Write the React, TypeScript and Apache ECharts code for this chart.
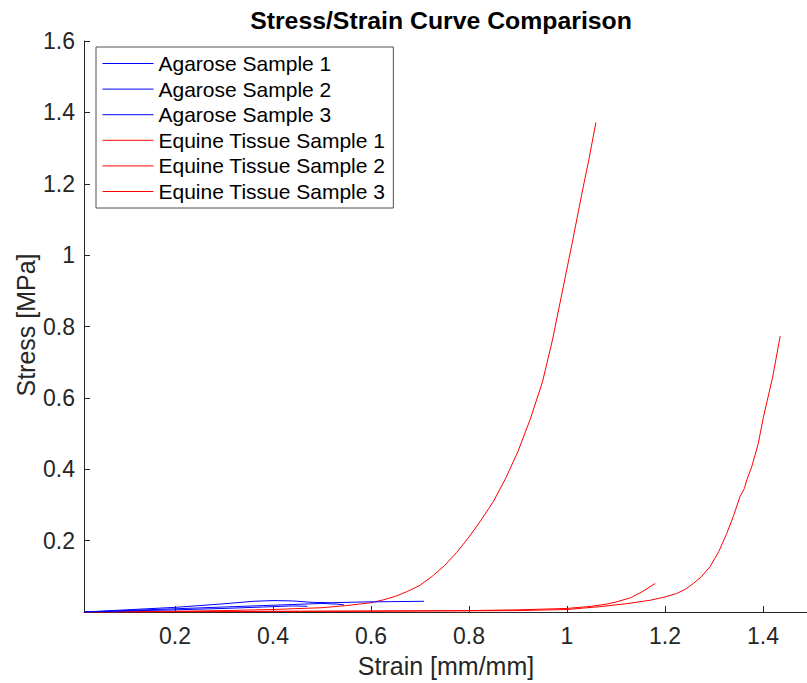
import React, { useEffect, useRef } from "react";
import * as echarts from "echarts";

const FONT = '"Liberation Sans", Arial, Helvetica, sans-serif';

const TITLE = "Stress/Strain Curve Comparison";
const X_NAME = "Strain [mm/mm]";
const Y_NAME = "Stress [MPa]";

const xTicks = [0.2, 0.4, 0.6, 0.8, 1.0, 1.2, 1.4];
const yTicks = [0.2, 0.4, 0.6, 0.8, 1.0, 1.2, 1.4, 1.6];

const seriesNames = [
  "Agarose Sample 1",
  "Agarose Sample 2",
  "Agarose Sample 3",
  "Equine Tissue Sample 1",
  "Equine Tissue Sample 2",
  "Equine Tissue Sample 3",
];
const seriesColors = ["#0000ff", "#0000ff", "#0000ff", "#ff0000", "#ff0000", "#ff0000"];

const strainAgarose1 = [0.015, 0.1, 0.2, 0.3, 0.36, 0.4, 0.44, 0.48, 0.52, 0.58, 0.64, 0.708];
const stressAgarose1 = [0, 0.006, 0.013, 0.023, 0.03, 0.032, 0.031, 0.027, 0.026, 0.028, 0.029, 0.03];

const strainAgarose2 = [0.015, 0.1, 0.2, 0.3, 0.38, 0.44, 0.5, 0.53, 0.545];
const stressAgarose2 = [0, 0.004, 0.009, 0.014, 0.018, 0.021, 0.024, 0.022, 0.02];

const strainAgarose3 = [0.015, 0.1, 0.2, 0.3, 0.38, 0.44, 0.47];
const stressAgarose3 = [0, 0.003, 0.006, 0.01, 0.014, 0.017, 0.016];

const strainEquine1 = [0.015, 0.1, 0.2, 0.3, 0.4, 0.5, 0.55, 0.6, 0.625, 0.65, 0.675, 0.7, 0.725, 0.75, 0.775, 0.8, 0.825, 0.85, 0.875, 0.9, 0.925, 0.95, 0.97, 0.99, 1.01, 1.03, 1.045, 1.059];
const stressEquine1 = [0, 0.001, 0.002, 0.004, 0.007, 0.012, 0.018, 0.026, 0.034, 0.044, 0.058, 0.075, 0.1, 0.13, 0.167, 0.21, 0.258, 0.31, 0.375, 0.45, 0.54, 0.645, 0.76, 0.895, 1.03, 1.17, 1.27, 1.372];

const strainEquine2 = [0.015, 0.2, 0.4, 0.6, 0.8, 0.9, 1.0, 1.05, 1.08, 1.1, 1.13, 1.155, 1.18];
const stressEquine2 = [0, 0.001, 0.002, 0.003, 0.004, 0.006, 0.01, 0.016, 0.022, 0.028, 0.04, 0.058, 0.08];

const strainEquine3 = [0.015, 0.3, 0.6, 0.9, 1.0, 1.067, 1.12, 1.17, 1.2, 1.224, 1.242, 1.258, 1.275, 1.292, 1.31, 1.326, 1.34, 1.353, 1.362, 1.367, 1.377, 1.39, 1.401, 1.42, 1.435];
const stressEquine3 = [0, 0.001, 0.002, 0.004, 0.007, 0.015, 0.023, 0.033, 0.042, 0.052, 0.064, 0.08, 0.1, 0.127, 0.17, 0.22, 0.27, 0.323, 0.346, 0.37, 0.407, 0.47, 0.547, 0.66, 0.773];

const strains = [strainAgarose1, strainAgarose2, strainAgarose3, strainEquine1, strainEquine2, strainEquine3];
const stresses = [stressAgarose1, stressAgarose2, stressAgarose3, stressEquine1, stressEquine2, stressEquine3];

const AXIS_COLOR = "#262626";

function fmt(v: number) {
  return String(+Number(v).toFixed(2));
}

export default function App() {
  const ref = useRef<HTMLDivElement>(null);
  useEffect(() => {
    if (!ref.current) return;
    const chart = echarts.init(ref.current, undefined, { renderer: "svg" });
    const series = seriesNames.map((name, i) => ({
      name,
      type: "line",
      data: strains[i].map((x, k) => [x, stresses[i][k]]),
      symbol: "none",
      showSymbol: false,
      smooth: false,
      lineStyle: { color: seriesColors[i], width: 1 },
      itemStyle: { color: seriesColors[i] },
      z: i < 3 ? 3 : 2,
    }));
    chart.setOption({
      animation: false,
      backgroundColor: "#ffffff",
      grid: { left: 84, right: 0, top: 41, bottom: 71, containLabel: false },
      xAxis: {
        type: "value",
        min: 0.0143,
        max: 1.4898,
        axisLine: { show: true, lineStyle: { color: AXIS_COLOR, width: 1 } },
        axisTick: { show: true, inside: true, length: 6, customValues: xTicks, lineStyle: { color: AXIS_COLOR } },
        axisLabel: {
          customValues: xTicks,
          formatter: (v: number) => fmt(v),
          fontSize: 23,
          fontFamily: FONT,
          color: AXIS_COLOR,
          margin: 12,
        },
        splitLine: { show: false },
      },
      yAxis: {
        type: "value",
        min: 0,
        max: 1.6,
        axisLine: { show: true, lineStyle: { color: AXIS_COLOR, width: 1 } },
        axisTick: { show: true, inside: true, length: 6, customValues: yTicks, lineStyle: { color: AXIS_COLOR } },
        axisLabel: {
          customValues: yTicks,
          formatter: (v: number) => fmt(v),
          fontSize: 23,
          fontFamily: FONT,
          color: AXIS_COLOR,
          margin: 9,
        },
        splitLine: { show: false },
      },
      legend: {
        data: seriesNames,
        orient: "vertical",
        left: 96,
        top: 47,
        itemWidth: 51,
        itemHeight: 20,
        itemGap: 4.6,
        padding: [6, 8, 6, 6],
        borderColor: "#505050",
        borderWidth: 1,
        backgroundColor: "#ffffff",
        itemStyle: { opacity: 0, borderWidth: 0 },
        lineStyle: { width: 1 },
        textStyle: { fontSize: 21, color: "#000000", fontFamily: FONT, lineHeight: 20 },
      },
      graphic: [
        {
          type: "text",
          x: 441,
          y: 20,
          style: {
            text: TITLE,
            fontSize: 24.8,
            fontWeight: "bold",
            fontFamily: FONT,
            fill: "#000000",
            align: "center",
            verticalAlign: "middle",
          },
        },
        {
          type: "text",
          x: 446,
          y: 666,
          style: {
            text: X_NAME,
            fontSize: 25,
            fontFamily: FONT,
            fill: AXIS_COLOR,
            align: "center",
            verticalAlign: "middle",
          },
        },
        {
          type: "text",
          x: 26,
          y: 325,
          rotation: Math.PI / 2,
          style: {
            text: Y_NAME,
            fontSize: 25,
            fontFamily: FONT,
            fill: AXIS_COLOR,
            align: "center",
            verticalAlign: "middle",
          },
        },
      ],
      series,
    });
    return () => chart.dispose();
  }, []);
  return (
    <div
      ref={ref}
      style={{ position: "fixed", left: 0, top: 0, width: 807, height: 683, background: "#fff" }}
    />
  );
}
